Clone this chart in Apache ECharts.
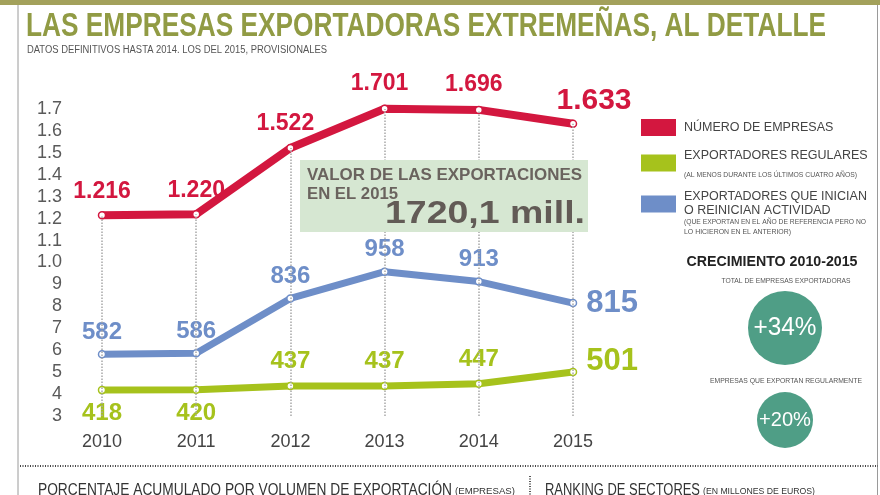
<!DOCTYPE html>
<html>
<head>
<meta charset="utf-8">
<script src="https://cdn.jsdelivr.net/npm/echarts@6/dist/echarts.min.js"></script>
<style>html,body{margin:0;padding:0;background:#fff}#c{width:880px;height:495px}</style>
</head>
<body>
<div id="c"></div>
<script>
// ---- DATA ----
const categories = ['2010', '2011', '2012', '2013', '2014', '2015'];
const numeroEmpresas = [1216, 1220, 1522, 1701, 1696, 1633];
const exportadoresRegulares = [418, 420, 437, 437, 447, 501];
const exportadoresInician = [582, 586, 836, 958, 913, 815];
const yAxisMin = 300, yAxisMax = 1700, yAxisInterval = 100;
const seriesNames = ['NÚMERO DE EMPRESAS', 'EXPORTADORES REGULARES', 'EXPORTADORES QUE INICIAN O REINICIAN ACTIVIDAD'];

// ---- STYLE ----
const RED = '#d3173f', GREEN = '#a6c21c', BLUE = '#6e8ec8';
const FF = '"Liberation Sans", Arial, sans-serif';
const mctx = document.createElement('canvas').getContext('2d');
function fitScale(text, font, target) { mctx.font = font; return target / mctx.measureText(text).width; }
function txt(text, x, y, font, fill, target, align) {
  const sx = target ? fitScale(text, font, target) : 1;
  return { type: 'text', x: x, y: y, scaleX: sx, z: 100,
    style: { text: text, font: font, fill: fill, textAlign: align || 'left', textVerticalAlign: 'middle' } };
}

const chart = echarts.init(document.getElementById('c'), null, { renderer: 'canvas' });

function lbl(over) { return Object.assign({ show: true, fontFamily: FF, fontWeight: 'bold' }, over); }

const redData = numeroEmpresas.map((v, i) => ({ value: v,
  label: i === 5 ? { fontSize: 30, distance: 4, offset: [21, 0] } : (i >= 2 ? { offset: [-5, -1] } : {}) }));
const greenData = exportadoresRegulares.map((v, i) => ({ value: v,
  label: i < 2 ? { position: 'bottom', distance: 7 } : (i === 5 ? { position: 'right', distance: 9, fontSize: 31, offset: [0, -10] } : {}) }));
const blueData = exportadoresInician.map((v, i) => ({ value: v,
  label: i === 5 ? { position: 'right', distance: 9, fontSize: 31 } : {} }));

const option = {
  animation: false,
  backgroundColor: '#fff',
  grid: { left: 102, right: 307, top: 109, bottom: 79, containLabel: false },
  xAxis: {
    type: 'category', data: categories, boundaryGap: false,
    axisLine: { show: false }, axisTick: { show: false }, splitLine: { show: false },
    axisLabel: { color: '#444', fontSize: 18, fontFamily: FF, margin: 17 }
  },
  yAxis: {
    type: 'value', min: yAxisMin, max: yAxisMax, interval: yAxisInterval,
    axisLine: { show: false }, axisTick: { show: false }, splitLine: { show: false },
    axisLabel: { color: '#5a5a5a', fontSize: 18, fontFamily: FF, margin: 40,
      formatter: v => v >= 1000 ? (v / 1000).toFixed(1) : String(v / 100) }
  },
  legend: {
    orient: 'vertical', left: 641, top: 119, padding: 0, itemWidth: 35, itemHeight: 17, itemGap: 13,
    icon: 'rect', selectedMode: false,
    textStyle: { fontSize: 12.5, color: '#444', fontFamily: FF, lineHeight: 14, padding: [0, 0, 0, 3] },
    formatter: n => n === seriesNames[2] ? 'EXPORTADORES QUE INICIAN\nO REINICIAN ACTIVIDAD'
      : (n === seriesNames[1] ? n + '\n\u00a0' : n),
    data: [
      { name: seriesNames[0], itemStyle: { color: RED, borderWidth: 0 } },
      { name: seriesNames[1], itemStyle: { color: GREEN, borderWidth: 0 } },
      { name: seriesNames[2], itemStyle: { color: BLUE, borderWidth: 0 } }
    ]
  },
  series: [
    {
      name: seriesNames[0], type: 'line', data: redData, z: 3, clip: false,
      symbol: 'circle', symbolSize: 7, showAllSymbol: true,
      lineStyle: { color: RED, width: 8 },
      itemStyle: { color: '#fff', borderColor: RED, borderWidth: 1.5 },
      label: lbl({ position: 'top', distance: 8, fontSize: 23, color: RED,
        formatter: p => (p.value / 1000).toFixed(3) }),
      markLine: {
        silent: true, symbol: 'none', label: { show: false }, animation: false,
        lineStyle: { color: '#a8a8a8', type: 'dotted', width: 1.5 },
        data: numeroEmpresas.map((v, i) => [{ coord: [i, yAxisMin] }, { coord: [i, Math.min(v, yAxisMax)] }])
      }
    },
    {
      name: seriesNames[1], type: 'line', data: greenData, z: 4, clip: false,
      symbol: 'circle', symbolSize: 7,
      lineStyle: { color: GREEN, width: 7 },
      itemStyle: { color: '#fff', borderColor: GREEN, borderWidth: 1.5 },
      label: lbl({ position: 'top', distance: 8, fontSize: 24, color: GREEN })
    },
    {
      name: seriesNames[2], type: 'line', data: blueData, z: 4, clip: false,
      symbol: 'circle', symbolSize: 7,
      lineStyle: { color: BLUE, width: 7 },
      itemStyle: { color: '#fff', borderColor: BLUE, borderWidth: 1.5 },
      label: lbl({ position: 'top', distance: 6, fontSize: 24, color: BLUE })
    }
  ],
  graphic: { elements: [
    { type: 'rect', shape: { x: 0, y: 0, width: 880, height: 5 }, style: { fill: '#a3a15b' }, z: 100 },
    { type: 'line', shape: { x1: 18, y1: 5, x2: 18, y2: 495 }, style: { stroke: '#9a9a9a', lineWidth: 1 }, z: 100 },
    { type: 'line', shape: { x1: 877.5, y1: 5, x2: 877.5, y2: 495 }, style: { stroke: '#9a9a9a', lineWidth: 1 }, z: 100 },
    txt('LAS EMPRESAS EXPORTADORAS EXTREMEÑAS, AL DETALLE', 26, 27, 'bold 33px ' + FF, '#919b44', 800),
    txt('DATOS DEFINITIVOS HASTA 2014. LOS DEL 2015, PROVISIONALES', 27, 50, '10px ' + FF, '#555', 300),
    // value box
    { type: 'rect', shape: { x: 300, y: 160, width: 288, height: 72 }, style: { fill: '#d6e7d2' }, z: 90 },
    txt('VALOR DE LAS EXPORTACIONES', 307, 175, 'bold 17px ' + FF, '#6a635e', 275),
    txt('EN EL 2015', 307, 194, 'bold 17px ' + FF, '#6a635e', 91),
    txt('1720,1 mill.', 585, 214, 'bold 31px ' + FF, '#625b56', 200, 'right'),
    // legend sub-notes
    txt('(AL MENOS DURANTE LOS ÚLTIMOS CUATRO AÑOS)', 684, 175, '7px ' + FF, '#555', 173),
    txt('(QUE EXPORTAN EN EL AÑO DE REFERENCIA PERO NO', 684, 222, '7px ' + FF, '#555', 182),
    txt('LO HICIERON EN EL ANTERIOR)', 684, 232, '7px ' + FF, '#555', 107),
    // growth panel
    txt('CRECIMIENTO 2010-2015', 772, 262, 'bold 14px ' + FF, '#222', 171, 'center'),
    txt('TOTAL DE EMPRESAS EXPORTADORAS', 786, 281, '7.5px ' + FF, '#555', 129, 'center'),
    { type: 'circle', shape: { cx: 785, cy: 328, r: 37 }, style: { fill: '#4f9e86' }, z: 100 },
    txt('+34%', 785, 328, '26px ' + FF, '#fff', 63, 'center'),
    txt('EMPRESAS QUE EXPORTAN REGULARMENTE', 786, 381, '7.5px ' + FF, '#555', 152, 'center'),
    { type: 'circle', shape: { cx: 785, cy: 420, r: 28 }, style: { fill: '#4f9e86' }, z: 100 },
    txt('+20%', 785, 420, '21px ' + FF, '#fff', 52, 'center'),
    // bottom section
    { type: 'line', shape: { x1: 20, y1: 466, x2: 878, y2: 466 }, style: { stroke: '#444', lineWidth: 2, lineDash: [1, 1.5] }, z: 100 },
    { type: 'line', shape: { x1: 530, y1: 476, x2: 530, y2: 495 }, style: { stroke: '#555', lineWidth: 2, lineDash: [1, 1.5] }, z: 100 },
    txt('PORCENTAJE ACUMULADO POR VOLUMEN DE EXPORTACIÓN', 38, 491, '16px ' + FF, '#333', 414),
    txt('(EMPRESAS)', 455, 492, '9px ' + FF, '#333', 60),
    txt('RANKING DE SECTORES', 545, 491, '16px ' + FF, '#333', 155),
    txt('(EN MILLONES DE EUROS)', 703, 492, '9px ' + FF, '#333', 112)
  ] }
};
chart.setOption(option);
</script>
</body>
</html>
